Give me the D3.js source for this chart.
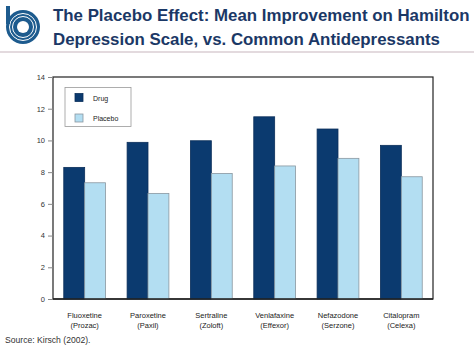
<!DOCTYPE html>
<html><head><meta charset="utf-8">
<script src="https://cdn.jsdelivr.net/npm/d3@7/dist/d3.min.js"></script>
<style>body{margin:0;background:#fff}svg{display:block}</style>
</head><body>
<script>
const categories = ["Fluoxetine|(Prozac)","Paroxetine|(Paxil)","Sertraline|(Zoloft)","Venlafaxine|(Effexor)","Nefazodone|(Serzone)","Citalopram|(Celexa)"];
const seriesNames = ["Drug","Placebo"];
const drugValues = [8.3, 9.88, 9.98, 11.49, 10.72, 9.69];
const placeboValues = [7.33, 6.66, 7.92, 8.39, 8.87, 7.71];
const yTicks = [0,2,4,6,8,10,12,14];
const titleLines = ["The Placebo Effect: Mean Improvement on Hamilton","Depression Scale, vs. Common Antidepressants"];
const sourceText = "Source:  Kirsch (2002).";

const W=474,H=351;
const font="'Liberation Sans', Arial, sans-serif";
const svg=d3.select("body").append("svg").attr("width",W).attr("height",H);

// logo
const logo=svg.append("g").attr("transform","translate(23,27)");
const blue="#1d5b8e";
logo.append("circle").attr("r",17).attr("fill",blue);
logo.append("circle").attr("r",13.5).attr("fill","none").attr("stroke","#fff").attr("stroke-width",1);
logo.append("circle").attr("r",10.5).attr("fill","none").attr("stroke","#fff").attr("stroke-width",1);
logo.append("circle").attr("r",6).attr("fill","#fff");
logo.append("rect").attr("x",-17).attr("y",-21).attr("width",4).attr("height",18).attr("fill",blue);

// title
const t=svg.append("text").attr("font-family",font).attr("font-weight","bold").attr("font-size",16.85).attr("fill","#1b3866");
titleLines.forEach((l,i)=>t.append("tspan").attr("x",53).attr("y",21+i*24).text(l));
svg.append("line").attr("x1",0).attr("x2",W).attr("y1",52).attr("y2",52).attr("stroke","#c7b5bd").attr("stroke-width",1.2);

const m={l:53,r:433,t:77,b:299};
const x0=d3.scaleBand().domain(categories).range([m.l,m.r]).paddingInner(0.34).paddingOuter(0.17);
const x1=d3.scaleBand().domain(seriesNames).range([0,x0.bandwidth()]);
const y=d3.scaleLinear().domain([0,14]).range([m.b,m.t]);
const colors={Drug:"#0b3a6f",Placebo:"#b3def2"};

// frame
svg.append("rect").attr("x",m.l).attr("y",m.t).attr("width",m.r-m.l).attr("height",m.b-m.t).attr("fill","none").attr("stroke","#222").attr("stroke-width",1.2);

// y axis
const ya=svg.append("g").attr("transform",`translate(${m.l},0)`).call(d3.axisLeft(y).tickValues(yTicks).tickSize(5).tickPadding(3));
ya.select(".domain").remove();
ya.selectAll(".tick line").attr("stroke","#888");
ya.selectAll("text").attr("font-family",font).attr("font-size",7.5).attr("fill","#333");

const data=categories.map((c,i)=>({c,vals:[{k:"Drug",v:drugValues[i]},{k:"Placebo",v:placeboValues[i]}]}));
const g=svg.selectAll(".grp").data(data).join("g").attr("transform",d=>`translate(${x0(d.c)},0)`);
g.selectAll("rect").data(d=>d.vals).join("rect")
  .attr("x",d=>x1(d.k)).attr("width",x1.bandwidth())
  .attr("y",d=>y(d.v)).attr("height",d=>y(0)-y(d.v))
  .attr("fill",d=>colors[d.k]).attr("stroke",d=>d.k==="Drug"?"#0b2f5a":"#8a97a0").attr("stroke-width",0.8);

// redraw bottom axis line
svg.append("line").attr("x1",m.l).attr("x2",m.r).attr("y1",m.b).attr("y2",m.b).attr("stroke","#222").attr("stroke-width",1.5);

// x labels
const xl=svg.selectAll(".xl").data(categories).join("text").attr("font-family",font).attr("font-size",7.5).attr("fill","#222").attr("text-anchor","middle");
xl.each(function(c){
  const cx=x0(c)+x0.bandwidth()/2;
  c.split("|").forEach((p,i)=>d3.select(this).append("tspan").attr("x",cx).attr("y",318+i*9.5).text(p));
});

// legend
svg.append("rect").attr("x",65).attr("y",87.5).attr("width",66).attr("height",39).attr("fill","#fff").attr("stroke","#999").attr("stroke-width",0.8);
seriesNames.forEach((s,i)=>{
  svg.append("rect").attr("x",75).attr("y",93.5+i*20.5).attr("width",8).attr("height",8).attr("fill",colors[s]).attr("stroke",s==="Drug"?"#0b2f5a":"#8a97a0").attr("stroke-width",0.8);
  svg.append("text").attr("x",93).attr("y",100.5+i*20.5).attr("font-family",font).attr("font-size",7).attr("fill","#222").text(s);
});

svg.append("text").attr("x",5).attr("y",343).attr("font-family",font).attr("font-size",8.6).attr("fill","#333").text(sourceText);
</script>
</body></html>
